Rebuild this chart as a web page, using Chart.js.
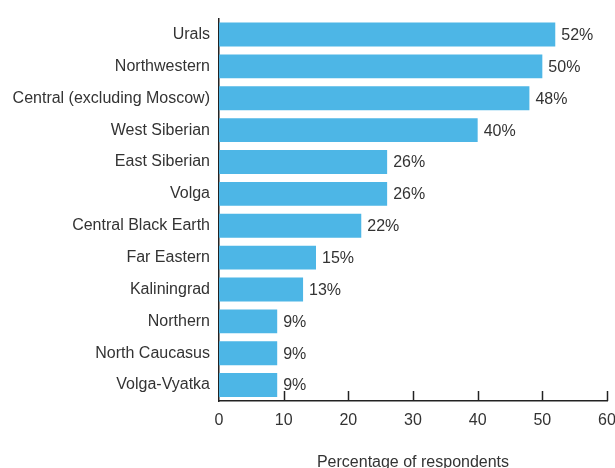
<!DOCTYPE html>
<html>
<head>
<meta charset="utf-8">
<script src="https://cdn.jsdelivr.net/npm/chart.js@4"></script>
<style>
  html, body { margin: 0; padding: 0; background: #fff; overflow: hidden; }
  #wrap { position: relative; width: 615px; height: 482px; }
</style>
</head>
<body>
<div id="wrap"><canvas id="chart"></canvas></div>
<script>
// Share of respondents by federal region
const regions = [
  'Urals', 'Northwestern', 'Central (excluding Moscow)', 'West Siberian',
  'East Siberian', 'Volga', 'Central Black Earth', 'Far Eastern',
  'Kaliningrad', 'Northern', 'North Caucasus', 'Volga-Vyatka'
];
const shares = [52, 50, 48, 40, 26, 26, 22, 15, 13, 9, 9, 9];
const xTicks = [0, 10, 20, 30, 40, 50, 60];
const axisTitle = 'Percentage of respondents';

const FONT = "'Liberation Sans', Arial, sans-serif";
const TEXT = '#333333';

// value labels at the end of each bar
const valueLabels = {
  id: 'valueLabels',
  afterDatasetsDraw(chart) {
    const ctx = chart.ctx;
    const meta = chart.getDatasetMeta(0);
    ctx.save();
    ctx.font = '16px ' + FONT;
    ctx.fillStyle = TEXT;
    ctx.textAlign = 'left';
    ctx.textBaseline = 'middle';
    meta.data.forEach((bar, i) => {
      ctx.fillText(shares[i] + '%', bar.x + 6, bar.y + 1);
    });
    ctx.restore();
  }
};

// short tick marks pointing up from the x axis line
const innerTicks = {
  id: 'innerTicks',
  afterDraw(chart) {
    const ctx = chart.ctx;
    const x = chart.scales.x;
    const yb = chart.chartArea.bottom;
    ctx.save();
    ctx.strokeStyle = '#222';
    ctx.lineWidth = 1.5;
    xTicks.forEach(v => {
      if (v === 0) return;
      const px = Math.round(x.getPixelForValue(v)) + 0.5;
      ctx.beginPath();
      ctx.moveTo(px, yb);
      ctx.lineTo(px, yb - 10);
      ctx.stroke();
    });
    ctx.restore();
  }
};

new Chart(document.getElementById('chart'), {
  type: 'bar',
  data: {
    labels: regions,
    datasets: [{
      data: shares,
      backgroundColor: '#4db6e6',
      borderWidth: 0,
      barPercentage: 0.75,
      categoryPercentage: 1.0
    }]
  },
  options: {
    indexAxis: 'y',
    responsive: true,
    maintainAspectRatio: false,
    animation: false,
    layout: { padding: { top: 13, right: 8, left: 0, bottom: 0 } },
    plugins: {
      legend: { display: false },
      tooltip: { enabled: false }
    },
    scales: {
      x: {
        min: 0,
        max: 60,
        afterBuildTicks(scale) { scale.ticks = xTicks.map(v => ({ value: v })); },
        afterFit(scale) { scale.height = 81; scale.paddingRight = 0; scale.paddingLeft = 0; },
        grid: { display: false, drawTicks: false },
        border: { display: true, color: '#222', width: 1.5 },
        ticks: {
          color: TEXT,
          font: { family: FONT, size: 16 },
          padding: 10,
          maxRotation: 0
        },
        title: {
          display: true,
          text: axisTitle,
          color: TEXT,
          font: { family: FONT, size: 16 },
          padding: { top: 0, bottom: 10 }
        }
      },
      y: {
        afterFit(scale) { scale.width = 219; },
        grid: { display: false, drawTicks: false },
        border: { display: true, color: '#222', width: 1.5 },
        ticks: {
          color: TEXT,
          font: { family: FONT, size: 16 },
          padding: 9,
          autoSkip: false
        }
      }
    }
  },
  plugins: [valueLabels, innerTicks]
});
</script>
</body>
</html>
